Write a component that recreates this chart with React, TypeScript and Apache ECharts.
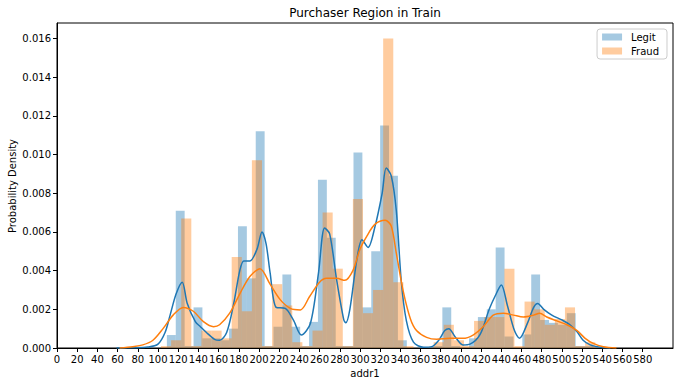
import React, { useEffect, useRef } from "react";
import * as echarts from "echarts";

// Histogram bins (density) — Legit: 50 bins from 100, width 8.8
const legitStart = 100;
const legitWidth = 8.8;
const legitHeights = [
  0, 0.00067, 0.0071, 0.0001, 0.0021, 0.0005, 0.0005, 0.0004, 0.001, 0.0063,
  0.0036, 0.0112, 0.0001, 0.0011, 0.0038, 0.0011, 0.0001, 0.00135, 0.0087, 0.0057,
  0.0001, 0.0001, 0.0101, 0.0021, 0.005, 0.0115, 0.0089, 0.0004, 0, 0,
  0, 0.0001, 0.0021, 0.0001, 0, 0.0005, 0.0016, 0.002, 0.0052, 0.0006,
  0, 0.0007, 0.0038, 0.00145, 0.0013, 0.0012, 0.0018, 0.0001, 0.0001, 0,
];

// Fraud: 44 bins from 103, width 10
const fraudStart = 103;
const fraudWidth = 10;
const fraudHeights = [
  0.0001, 0.0004, 0.0067, 0.0001, 0.0009, 0.0009, 0.0005, 0.0047, 0.0019, 0.0097,
  0.0001, 0.0033, 0.0022, 0.0003, 0.0001, 0.0009, 0.007, 0.0041, 0.0001, 0.0077,
  0.0018, 0.003, 0.016, 0.0034, 0.0001, 0, 0, 0.0003, 0.0012, 0.0004,
  0.0001, 0.0014, 0.0016, 0.0016, 0.0041, 0.0001, 0.0024, 0.002, 0.0012, 0.0015,
  0.0021, 0.0001, 0.0003, 0,
];

// KDE curves
const legitKdeX = [
  59, 75, 90, 100, 107, 112, 118, 124, 129, 137, 142, 148, 156, 161, 168, 175,
  181, 185, 191, 198, 203, 207, 211, 217, 226, 234, 242, 251, 259, 265, 270, 277,
  284, 286, 290, 297, 302, 308, 315, 322, 326, 331, 336, 341, 346, 353, 363, 371,
  378, 384, 388, 394, 402, 409, 419, 428, 434, 440, 446, 453, 458, 466, 472, 476,
  482, 490, 500, 508, 515, 521, 528, 538, 548,
];
const legitKdeY = [
  0, 0.00001, 0.00005, 0.0002, 0.0008, 0.0017, 0.0028, 0.0034, 0.0023, 0.00136,
  0.0011, 0.0008, 0.00045, 0.0004, 0.0008, 0.0023, 0.004, 0.0045, 0.0045, 0.0051,
  0.006, 0.0054, 0.0039, 0.0021, 0.00205, 0.00145, 0.00067, 0.00128, 0.0039, 0.0062,
  0.0059, 0.0035, 0.00145, 0.0013, 0.002, 0.0046, 0.0056, 0.0052, 0.0063, 0.008,
  0.0093, 0.0089, 0.0071, 0.0034, 0.0014, 0.0003, 0.00004, 0.00007, 0.0004, 0.0009,
  0.001, 0.0006, 0.00016, 0.0002, 0.0007, 0.002, 0.0027, 0.00326, 0.0022, 0.0009,
  0.0005, 0.0013, 0.0021, 0.0023, 0.002, 0.0017, 0.00145, 0.0012, 0.00084, 0.0004,
  0.00016, 0.00004, 0,
];

const fraudKdeX = [
  62, 75, 85, 95, 105, 115, 125, 135, 145, 155, 161, 171, 181, 191, 201, 211,
  221, 231, 241, 250, 260, 267, 277, 285, 293, 300, 307, 315, 325, 331, 336, 343,
  350, 356, 366, 376, 389, 402, 412, 422, 432, 442, 452, 462, 472, 478, 485, 495,
  505, 515, 523, 531, 541, 554,
];
const fraudKdeY = [
  0, 0.00007, 0.00016, 0.0004, 0.001, 0.0017, 0.0021, 0.0019, 0.00136, 0.0011,
  0.0012, 0.0018, 0.0028, 0.0037, 0.0041, 0.0033, 0.0025, 0.00205, 0.00197, 0.00265,
  0.0034, 0.0036, 0.0036, 0.0035, 0.004, 0.0051, 0.0058, 0.0064, 0.0066, 0.0063,
  0.0049, 0.0029, 0.0015, 0.0009, 0.00055, 0.00045, 0.0005, 0.0005, 0.00067, 0.0011,
  0.0017, 0.0018, 0.0017, 0.0016, 0.0017, 0.0018, 0.0016, 0.0014, 0.0012, 0.0009,
  0.0005, 0.00024, 0.00007, 0,
];

const xTickValues = [
  0, 20, 40, 60, 80, 100, 120, 140, 160, 180, 200, 220, 240, 260, 280, 300, 320,
  340, 360, 380, 400, 420, 440, 460, 480, 500, 520, 540, 560, 580,
];
const yTickValues = [0, 0.002, 0.004, 0.006, 0.008, 0.01, 0.012, 0.014, 0.016];

const FONT = "DejaVu Sans";

function binData(start: number, width: number, heights: number[]) {
  return heights.map((h, i) => [start + i * width, start + (i + 1) * width, h]);
}

function makeRender(color: string) {
  return (params: any, api: any) => {
    const p0 = api.coord([api.value(0), api.value(2)]);
    const p1 = api.coord([api.value(1), 0]);
    return {
      type: "rect",
      shape: { x: p0[0], y: p0[1], width: p1[0] - p0[0], height: p1[1] - p0[1] },
      style: { fill: color },
    };
  };
}

const LEGIT_FILL = "rgba(31,119,180,0.4)";
const FRAUD_FILL = "rgba(255,127,14,0.4)";

export default function App() {
  const ref = useRef<HTMLDivElement>(null);
  useEffect(() => {
    if (!ref.current) return;
    const chart = echarts.init(ref.current, null, { renderer: "svg" });
    chart.setOption({
      animation: false,
      backgroundColor: "#fff",
      grid: {
        left: 57,
        right: 4,
        top: 23,
        bottom: 39,
        show: true,
        borderColor: "#000",
        borderWidth: 1,
        backgroundColor: "transparent",
      },
      graphic: [
        {
          type: "text",
          x: 365,
          y: 13,
          style: {
            text: "Purchaser Region in Train",
            font: `12px "${FONT}"`,
            fill: "#000",
            textAlign: "center",
            textVerticalAlign: "middle",
          },
        },
        {
          type: "text",
          x: 12,
          y: 186,
          rotation: Math.PI / 2,
          style: {
            text: "Probability Density",
            font: `10px "${FONT}"`,
            fill: "#000",
            textAlign: "center",
            textVerticalAlign: "middle",
          },
        },
      ],
      legend: {
        data: ["Legit", "Fraud"],
        orient: "vertical",
        right: 10,
        top: 29,
        itemWidth: 20,
        itemHeight: 7,
        itemGap: 4,
        icon: "rect",
        padding: [3, 8, 3, 5],
        borderColor: "#cccccc",
        borderWidth: 1,
        borderRadius: 3,
        backgroundColor: "rgba(255,255,255,0.8)",
        textStyle: { fontSize: 10, fontFamily: FONT, color: "#000", padding: [0, 0, 0, 4] },
      },
      xAxis: {
        type: "value",
        min: 0,
        max: 610,
        name: "addr1",
        nameLocation: "middle",
        nameGap: 20,
        nameTextStyle: { fontSize: 10, fontFamily: FONT, color: "#000" },
        axisLine: { show: true, lineStyle: { color: "#000", width: 1 } },
        axisTick: {
          show: true,
          length: 4,
          customValues: xTickValues,
          lineStyle: { color: "#000", width: 1 },
        },
        axisLabel: {
          customValues: xTickValues,
          fontSize: 10,
          fontFamily: FONT,
          color: "#000",
          margin: 6,
        },
        splitLine: { show: false },
      },
      yAxis: {
        type: "value",
        min: 0,
        max: 0.0168,
        axisLine: { show: true, lineStyle: { color: "#000", width: 1 } },
        axisTick: {
          show: true,
          length: 4,
          customValues: yTickValues,
          lineStyle: { color: "#000", width: 1 },
        },
        axisLabel: {
          customValues: yTickValues,
          fontSize: 10,
          fontFamily: FONT,
          color: "#000",
          margin: 6,
          formatter: (v: number) => v.toFixed(3),
        },
        splitLine: { show: false },
      },
      series: [
        {
          type: "custom",
          name: "Legit",
          renderItem: makeRender(LEGIT_FILL),
          data: binData(legitStart, legitWidth, legitHeights),
          encode: { x: [0, 1], y: 2 },
          itemStyle: { color: LEGIT_FILL },
          clip: true,
        },
        {
          type: "line",
          name: "Legit KDE",
          data: legitKdeX.map((x, i) => [x, legitKdeY[i]]),
          showSymbol: false,
          smooth: 0.3,
          lineStyle: { color: "#1f77b4", width: 1.5 },
          itemStyle: { color: "#1f77b4" },
        },
        {
          type: "custom",
          name: "Fraud",
          renderItem: makeRender(FRAUD_FILL),
          data: binData(fraudStart, fraudWidth, fraudHeights),
          encode: { x: [0, 1], y: 2 },
          itemStyle: { color: FRAUD_FILL },
          clip: true,
        },
        {
          type: "line",
          name: "Fraud KDE",
          data: fraudKdeX.map((x, i) => [x, fraudKdeY[i]]),
          showSymbol: false,
          smooth: 0.3,
          lineStyle: { color: "#ff7f0e", width: 1.5 },
          itemStyle: { color: "#ff7f0e" },
        },
      ],
    });
    return () => chart.dispose();
  }, []);
  return (
    <div
      ref={ref}
      style={{ position: "fixed", left: 0, top: 0, width: 677, height: 387, background: "#fff" }}
    />
  );
}
